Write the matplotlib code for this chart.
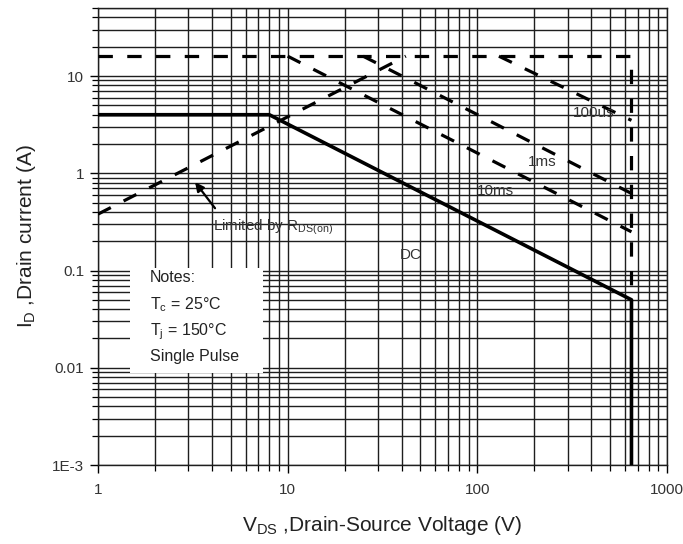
import matplotlib
matplotlib.use("Agg")
import matplotlib.pyplot as plt
from matplotlib.patches import Rectangle

plt.rcParams['font.family'] = ['Liberation Sans', 'DejaVu Sans']
plt.rcParams['mathtext.fontset'] = 'custom'
plt.rcParams['mathtext.rm'] = 'Liberation Sans'

# safe operating area curves (V, A)
vds_dc = [1, 8, 650, 650]
id_dc = [4, 4, 0.05, 0.001]

vds_rds = [1, 42]
id_rds = [0.38, 16]

vds_pulse_max = [1, 650, 650]
id_pulse_max = [16, 16, 0.05]

vds_100us = [130, 650]
id_100us = [16, 3.5]
vds_1ms = [25, 650]
id_1ms = [16, 0.62]
vds_10ms = [10, 650]
id_10ms = [16, 0.25]

xticks = [1, 10, 100, 1000]
xlabels = ['1', '10', '100', '1000']
yticks = [1e-3, 1e-2, 1e-1, 1, 10]
ylabels = ['1E-3', '0.01', '0.1', '1', '10']

fig = plt.figure(figsize=(6.83, 5.44), dpi=100)
ax = fig.add_axes([0.1435, 0.1452, 0.833, 0.840])
ax.set_xscale('log')
ax.set_yscale('log')
ax.set_xlim(1, 1000)
ax.set_ylim(1e-3, 50)

ax.grid(which='both', color='#1e1e1e', lw=1.0)
ax.set_axisbelow(True)

dash = dict(color='black', lw=2.3, ls=(0, (4.5, 4.5)), zorder=3)
ax.plot(vds_pulse_max, id_pulse_max, **dash)
ax.plot(vds_rds, id_rds, **dash)
ax.plot(vds_100us, id_100us, **dash)
ax.plot(vds_1ms, id_1ms, **dash)
ax.plot(vds_10ms, id_10ms, **dash)
ax.plot(vds_dc, id_dc, color='black', lw=2.6, zorder=4)

ax.set_xticks(xticks)
ax.set_xticklabels(xlabels)
ax.set_yticks(yticks)
ax.set_yticklabels(ylabels)
ax.tick_params(which='major', direction='out', length=6, width=1.0,
               labelsize=11, labelcolor='#333333', pad=4)
ax.tick_params(which='minor', direction='out', length=4.5, width=0.9)
ax.tick_params(axis='x', which='major', pad=7)
for s in ax.spines.values():
    s.set_color('#1e1e1e')
    s.set_linewidth(1.0)

ax.set_xlabel(r'$\mathregular{V_{DS}}$ ,Drain-Source Voltage (V)', fontsize=15,
              color='#222222', labelpad=12)
ax.set_ylabel(r'$\mathregular{I_{D}}$ ,Drain current (A)', fontsize=15,
              color='#222222', labelpad=10)

# notes box
ax.add_patch(Rectangle((1.475, 0.0088), 7.4 - 1.475, 0.106 - 0.0088,
                       facecolor='white', edgecolor='none', zorder=2))
note_kw = dict(fontsize=11.5, color='#222222', va='center', zorder=5)
ax.text(1.88, 0.0855, 'Notes:', **note_kw)
ax.text(1.88, 0.045, r'$\mathregular{T_c}$ = 25°C', **note_kw)
ax.text(1.88, 0.0237, r'$\mathregular{T_j}$ = 150°C', **note_kw)
ax.text(1.88, 0.0131, 'Single Pulse', **note_kw)

lab_kw = dict(fontsize=11, color='#333333', va='center', zorder=5)
ax.text(39, 0.144, 'DC', **lab_kw)
ax.text(319, 4.14, '100us', **lab_kw)
ax.text(185, 1.3, '1ms', **lab_kw)
ax.text(100, 0.65, '10ms', **lab_kw)
ax.text(4.04, 0.275, r'Limited by $\mathregular{R_{DS(on)}}$', **lab_kw)
ax.annotate('', xy=(3.25, 0.81), xytext=(4.14, 0.437),
            arrowprops=dict(arrowstyle='-|>', color='black', lw=1.6,
                            mutation_scale=13, shrinkA=0, shrinkB=0), zorder=5)

fig.savefig('out.png', dpi=100)
